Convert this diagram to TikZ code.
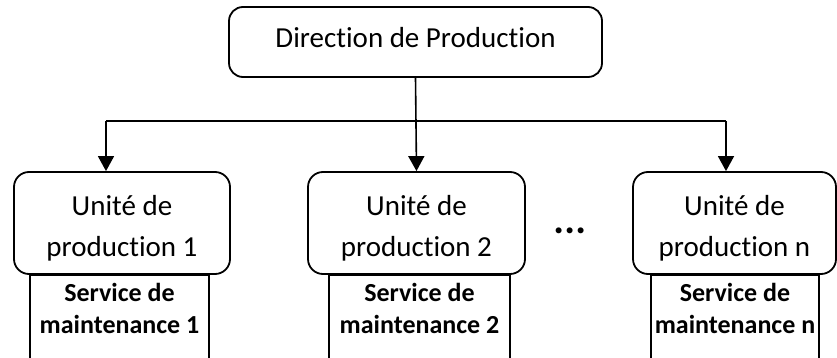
\documentclass[tikz,border=0pt]{standalone}
\usepackage{fontspec}
\setmainfont{Carlito}[Ligatures={NoCommon}, RawFeature={-liga}]
\usetikzlibrary{arrows.meta}
\tikzset{
  unitbox/.style={draw, line width=1.8pt, rounded corners=15pt, inner sep=0pt, minimum height=102pt},
  svcbox/.style={draw, line width=1.8pt, inner sep=0pt, anchor=north, minimum height=110pt},
  utext/.style={anchor=base, inner sep=0pt, font=\fontsize{29}{35}\selectfont},
  stext/.style={anchor=base, inner sep=0pt, font=\fontsize{26}{32}\selectfont\bfseries},
  conn/.style={line width=1.6pt, -{Triangle[width=16pt,length=15pt]}},
}
\begin{document}
\begin{tikzpicture}[x=1pt,y=-1pt]
\useasboundingbox (0,0) rectangle (837,358);
\clip (0,0) rectangle (837,358);
% top box
\node[unitbox, rounded corners=14pt, minimum width=373pt, minimum height=70pt] (top) at (415.5,42) {};
\node[utext] (toptext) at (415.5,48) {Direction de Production};
% service boxes (drawn first so unit boxes overlap)
\node[svcbox, minimum width=179pt] (s1) at (119.5,274) {};
\node[svcbox, minimum width=181pt] (s2) at (419.5,274) {};
\node[svcbox, minimum width=168pt] (sn) at (735,274) {};
% unit boxes
\node[unitbox, fill=white, minimum width=216pt] (u1) at (122,223) {};
\node[unitbox, fill=white, minimum width=217pt] (u2) at (416.5,223) {};
\node[unitbox, fill=white, minimum width=203pt] (un) at (734.5,223) {};
% unit texts
\node[utext] (u1a) at (122,215) {Unité de};
\node[utext] (u1b) at (122,256) {production 1};
\node[utext] (u2a) at (416.5,215) {Unité de};
\node[utext] (u2b) at (416.5,256) {production 2};
\node[utext] (una) at (734.5,215) {Unité de};
\node[utext] (unb) at (734.5,256) {production n};
% service texts
\node[stext] (s1a) at (119.5,301.5) {Service de};
\node[stext] (s1b) at (119.5,333.5) {maintenance 1};
\node[stext] (s2a) at (419.5,301.5) {Service de};
\node[stext] (s2b) at (419.5,333.5) {maintenance 2};
\node[stext] (sna) at (735,301.5) {Service de};
\node[stext] (snb) at (735,333.5) {maintenance n};
% dots
\node[anchor=base, inner sep=0pt, font=\fontsize{40}{40}\selectfont\bfseries\itshape] (dots) at (571,233) {...};
% connectors
\coordinate (jl) at (106,121);
\coordinate (jr) at (726,121);
\draw[conn] (top.south) -- (u2.north);
\draw[line width=1.6pt] (jl) -- (jr);
\draw[conn] (jl) -- (jl |- u1.north);
\draw[conn] (jr) -- (jr |- un.north);
\end{tikzpicture}
\end{document}
